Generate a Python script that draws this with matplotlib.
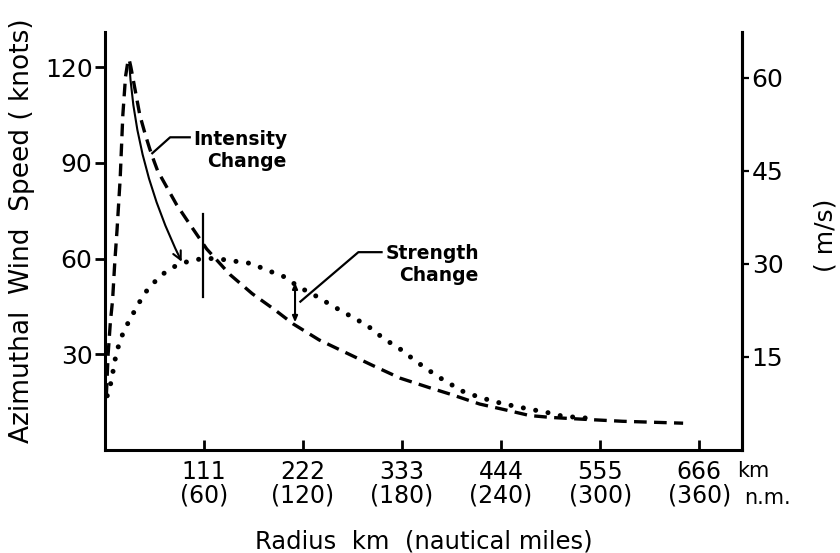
import matplotlib
matplotlib.use("Agg")
import matplotlib.pyplot as plt
from matplotlib.transforms import blended_transform_factory

# ---- data ----
# radius in km, azimuthal wind in knots
dashed_r = [1.5, 3.5, 6, 8.5, 11, 13.5, 17, 20, 23, 25.5, 27, 29, 33, 39, 45, 50, 55,
            59, 69, 80, 92, 114, 140, 165, 190, 211, 240, 270, 300, 331, 364, 387,
            420, 450, 476, 500, 532, 580, 648]
dashed_v = [17, 30, 40, 47, 59, 69, 85, 105, 117, 121.5, 122.5, 120, 114, 105, 99,
            94.5, 90.5, 87.5, 82.5, 77, 72, 63, 55, 49, 44, 39.5, 34.5, 30.5, 26.5, 22.5,
            19.5, 17.5, 14.4, 12.5, 10.8, 10.2, 9.7, 9, 8.4]

dotted_r = [2.5, 5, 8, 11, 15, 20, 27, 34, 40, 47, 55, 64, 78, 92, 109, 125, 142,
            163, 185, 200, 218, 235, 256, 275, 294, 312, 331, 350, 368, 379, 401,
            420, 439, 458, 476, 495, 513, 540]
dotted_v = [17, 19, 23, 28, 32.5, 36.5, 40.5, 44, 47, 50, 52.5, 55, 57.5, 59, 60, 60,
            59.3, 58.5, 56, 54.4, 51, 48.5, 45, 42, 39, 35, 31.6, 27.5, 24, 22, 18.4,
            16.5, 15, 13.8, 12.8, 11.8, 10.6, 10]

x_ticks = [111, 222, 333, 444, 555, 666]
x_tick_labels = ["111\n(60)", "222\n(120)", "333\n(180)", "444\n(240)",
                 "555\n(300)", "666\n(360)"]
y_ticks_kt = [30, 60, 90, 120]
y_ticks_ms = [15, 30, 45, 60]
KT_PER_MS = 1.94384

plt.rcParams['font.family'] = ['DejaVu Sans']

fig = plt.figure(figsize=(8.4, 5.53), dpi=100)
ax = fig.add_axes([105/840, 103/553, 637/840, 418/553])
ax.set_xlim(0, 714)
ax.set_ylim(0, 131)

ax.plot(dashed_r, dashed_v, color='k', lw=2.4, linestyle=(0, (3.8, 2.2)),
        dash_capstyle='butt')
ax.plot(dotted_r, dotted_v, color='k', lw=3.6, linestyle=(0, (0.01, 2.5)),
        dash_capstyle='round')

# spines
ax.spines['top'].set_visible(False)
for s in ['left', 'bottom', 'right']:
    ax.spines[s].set_linewidth(2.2)

ax.set_yticks(y_ticks_kt)
ax.set_yticklabels([str(v) for v in y_ticks_kt])
ax.tick_params(axis='y', direction='out', length=7, width=2, labelsize=18, pad=2)
ax.set_xticks(x_ticks)
ax.set_xticklabels(x_tick_labels, linespacing=1.0)
ax.tick_params(axis='x', direction='in', length=7, width=2, labelsize=17, pad=7)

ax2 = ax.twinx()
ax2.set_ylim(0, 131 / KT_PER_MS)
ax2.set_yticks(y_ticks_ms)
ax2.set_yticklabels([str(v) for v in y_ticks_ms])
ax2.tick_params(axis='y', direction='out', length=5, width=1.6, labelsize=18, pad=2)
ax2.spines['top'].set_visible(False)
ax2.spines['left'].set_visible(False)
ax2.spines['bottom'].set_visible(False)
ax2.spines['right'].set_linewidth(2.2)

# annotations
ax.plot([110, 110], [48, 74], color='k', lw=1.6)
ax.annotate('', xy=(86, 59), xytext=(27.5, 120),
            arrowprops=dict(arrowstyle='->,head_length=0.6,head_width=0.3',
                            connectionstyle='arc3,rad=0.1', lw=1.5, color='k',
                            shrinkA=0, shrinkB=0))
ax.plot([95, 73, 53], [98, 98, 93], color='k', lw=1.6)
ax.text(204, 94, "Intensity\nChange", ha='right', va='center',
        multialignment='right', fontweight='bold', fontsize=13.5, linespacing=1.2)

ax.annotate('', xy=(213, 52.5), xytext=(213, 40),
            arrowprops=dict(arrowstyle='<|-|>,head_length=0.35,head_width=0.15',
                            lw=1.5, color='k', shrinkA=0, shrinkB=0))
ax.plot([310, 284, 219], [62, 62, 46.5], color='k', lw=1.6)
ax.text(419, 58, "Strength\nChange", ha='right', va='center',
        multialignment='right', fontweight='bold', fontsize=13.5, linespacing=1.2)

tr = blended_transform_factory(ax.transData, ax.transAxes)
ax.text(708, -0.05, "km", transform=tr, ha='left', va='center', fontsize=15)
ax.text(716, -0.115, "n.m.", transform=tr, ha='left', va='center', fontsize=15)

fig.text(22/840, 1 - 231/553, "Azimuthal  Wind  Speed ( knots)", rotation=90,
         ha='center', va='center', fontsize=19)
fig.text(424/840, 1 - 541/553, "Radius  km  (nautical miles)", ha='center',
         va='center', fontsize=17.5)
fig.text(826/840, 1 - 235/553, "( m/s)", rotation=90, ha='center', va='center',
         fontsize=18)

fig.savefig("out.png", dpi=100)
